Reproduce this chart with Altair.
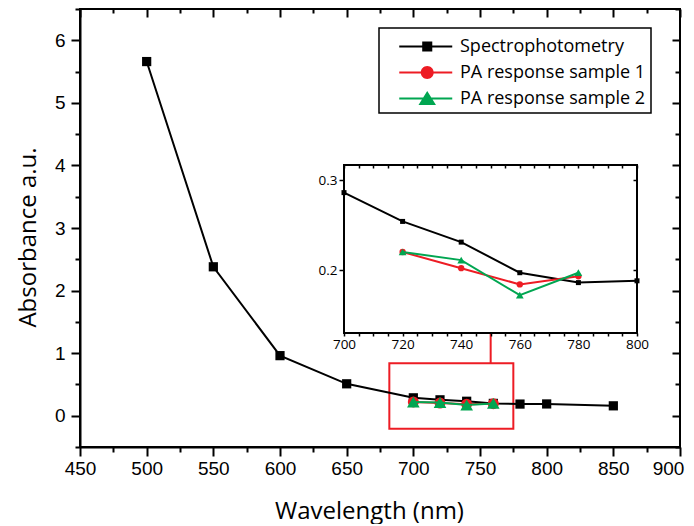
import altair as alt
import pandas as pd

# ---------------- data ----------------
spec_wl = [500, 550, 600, 650, 700, 720, 740, 760, 780, 800, 850]
spec_abs = [5.66, 2.38, 0.96, 0.51, 0.286, 0.254, 0.231, 0.197, 0.186, 0.188, 0.158]
pa_wl_main = [700, 720, 740, 760]
pa_wl_inset = [720, 740, 760, 780]
pa1_abs = [0.220, 0.202, 0.184, 0.193]
pa2_abs = [0.220, 0.211, 0.172, 0.197]
series_names = ["Spectrophotometry", "PA response sample 1", "PA response sample 2"]

x_ticks_main = [450, 475, 500, 525, 550, 575, 600, 625, 650, 675, 700, 725, 750,
                775, 800, 825, 850, 875, 900]
y_ticks_main = [-0.5, 0, 0.5, 1, 1.5, 2, 2.5, 3, 3.5, 4, 4.5, 5, 5.5, 6, 6.5]
x_ticks_inset = [700, 705, 710, 715, 720, 725, 730, 735, 740, 745, 750, 755, 760,
                 765, 770, 775, 780, 785, 790, 795, 800]
y_ticks_inset = [0.2, 0.3]

x_main_domain = [450, 900]
y_main_domain = [-0.5, 6.5]
x_inset_domain = [700, 800]
y_inset_domain = [0.13, 0.3167]

zoom_box_wl = [682, 775]
zoom_box_abs = [-0.21, 0.84]
connector_wl = [758]
connector_abs = [0.84, 1.33]

# ---------------- styles / layout ----------------
RED = "#ed1c24"
GREEN = "#00a651"
BLACK = "#000000"
series_colors = [BLACK, RED, GREEN]

W, H = 600, 438
inset_x_range = [264, 557]
inset_y_range = [324, 156]

TICK_FONT = "Liberation Sans"
TEXT_FONT = "Open Sans"

def cond(major_test, big, small):
    return {"condition": {"test": major_test, "value": big}, "value": small}

spec_df = pd.DataFrame({"wl": spec_wl, "abs": spec_abs})
pa1_main_df = pd.DataFrame({"wl": pa_wl_main, "abs": pa1_abs})
pa2_main_df = pd.DataFrame({"wl": pa_wl_main, "abs": pa2_abs})
spec_inset_df = spec_df[(spec_df.wl >= x_inset_domain[0]) & (spec_df.wl <= x_inset_domain[1])]
pa1_inset_df = pd.DataFrame({"wl": pa_wl_inset, "abs": pa1_abs})
pa2_inset_df = pd.DataFrame({"wl": pa_wl_inset, "abs": pa2_abs})

# ---------------- main plot ----------------
AX_MAIN_X = alt.Axis(
    orient="bottom", values=x_ticks_main, grid=False,
    tickSize=cond("datum.value % 50 == 0", 9, 5), tickWidth=2, tickColor=BLACK,
    domainWidth=2, domainColor=BLACK,
    labelExpr="datum.value % 50 == 0 ? '' + datum.value : ''",
    labelOffset=cond("datum.value == 900", -12, 0),
    labelFont=TICK_FONT, labelFontSize=19, labelColor=BLACK, labelPadding=3,
    labelFlush=False, labelOverlap=False,
    title="Wavelength (nm)", titleFont=TEXT_FONT, titleFontSize=24,
    titleFontWeight="normal", titleColor=BLACK, titleX=289, titleY=71,
    titleBaseline="alphabetic", titleAlign="center",
)
AX_MAIN_Y = alt.Axis(
    orient="left", values=y_ticks_main, grid=False,
    tickSize=cond("datum.value % 1 == 0", 9, 5), tickWidth=2, tickColor=BLACK,
    domainWidth=2, domainColor=BLACK,
    labelExpr="datum.value % 1 == 0 ? '' + datum.value : ''",
    labelFont=TICK_FONT, labelFontSize=19, labelColor=BLACK, labelPadding=6,
    labelOverlap=False,
    title="Absorbance a.u.", titleFont=TEXT_FONT, titleFontSize=24,
    titleFontWeight="normal", titleColor=BLACK, titleAngle=270, titleX=-45,
    titleY=228, titleBaseline="alphabetic", titleAlign="center",
)

def mx(field):
    return alt.X(f"{field}:Q", scale=alt.Scale(domain=x_main_domain, nice=False, zero=False),
                 axis=AX_MAIN_X)

def my(field):
    return alt.Y(f"{field}:Q", scale=alt.Scale(domain=y_main_domain, nice=False, zero=False),
                 axis=AX_MAIN_Y)

box_df = pd.DataFrame({"x0": [zoom_box_wl[0]], "x1": [zoom_box_wl[1]],
                       "y0": [zoom_box_abs[0]], "y1": [zoom_box_abs[1]]})
box = alt.Chart(box_df).mark_rect(fillOpacity=0, stroke=RED, strokeWidth=2).encode(
    x=mx("x0"), x2="x1", y=my("y0"), y2="y1")

conn_df = pd.DataFrame({"x": connector_wl, "y0": [connector_abs[0]], "y1": [connector_abs[1]]})
conn = alt.Chart(conn_df).mark_rule(color=RED, strokeWidth=2).encode(
    x=mx("x"), y=my("y0"), y2="y1")

def series_layers(df, color, shape, size, xf, yf, lw=2):
    line = alt.Chart(df).mark_line(color=color, strokeWidth=lw).encode(x=xf("wl"), y=yf("abs"))
    pts = alt.Chart(df).mark_point(shape=shape, filled=True, size=size, color=color,
                                   opacity=1, strokeWidth=0).encode(x=xf("wl"), y=yf("abs"))
    return [line, pts]

# legend symbols: line + marker drawn as one filled custom path (unit = sqrt(size)/2)
mxc = 2.245
legend_line = "M0.132,-0.0755H4.132V0.0755H0.132Z"
legend_paths = [
    legend_line + f"M{mxc-0.38:.3f},-0.38H{mxc+0.38:.3f}V0.38H{mxc-0.38:.3f}Z",
    legend_line + f"M{mxc+0.49:.3f},0A0.49,0.49 0 1,1 {mxc-0.49:.3f},0A0.49,0.49 0 1,1 {mxc+0.49:.3f},0Z",
    legend_line + f"M{mxc:.3f},-0.56L{mxc+0.66:.3f},0.5L{mxc-0.66:.3f},0.5Z",
]

LEG = alt.Legend(
    title=None, orient="none", legendX=299, legendY=19, symbolSize=702,
    labelOffset=49, padding=5, rowPadding=3, labelFont=TEXT_FONT, labelFontSize=18,
    labelColor=BLACK, strokeColor=BLACK, fillColor="white", symbolStrokeWidth=0,
    labelLimit=400,
    labelExpr="datum.label + '\u00a0\u00a0\u00a0\u00a0\u00a0\u00a0'",
)
legend_df = pd.DataFrame({"series": series_names})
legend_layer = alt.Chart(legend_df).mark_point(filled=True, opacity=1).encode(
    color=alt.Color("series:N", scale=alt.Scale(domain=series_names, range=series_colors), legend=LEG),
    shape=alt.Shape("series:N", scale=alt.Scale(domain=series_names, range=legend_paths), legend=LEG),
).transform_filter("false")

main_group = alt.layer(
    box, conn,
    *series_layers(spec_df, BLACK, "square", 85, mx, my),
    *series_layers(pa1_main_df, RED, "circle", 121, mx, my),
    *series_layers(pa2_main_df, GREEN, "triangle-up", 160, mx, my),
    legend_layer,
)

main_mirror = alt.Chart(spec_df).mark_point(opacity=0).encode(
    x=alt.X("wl:Q", scale=alt.Scale(domain=x_main_domain, nice=False, zero=False),
            axis=alt.Axis(orient="bottom", offset=-H, values=x_ticks_main, labels=False,
                          domain=False, grid=False, title=None, tickColor=BLACK, tickWidth=2,
                          tickSize=cond("datum.value % 50 == 0", 8, 4))),
    y=alt.Y("abs:Q", scale=alt.Scale(domain=y_main_domain, nice=False, zero=False),
            axis=alt.Axis(orient="left", offset=-W, values=y_ticks_main, labels=False,
                          domain=False, grid=False, title=None, tickColor=BLACK, tickWidth=2,
                          tickSize=cond("datum.value % 1 == 0", 8, 5))),
)

# ---------------- inset ----------------
AX_IN_X = alt.Axis(
    orient="bottom", offset=inset_y_range[0] - H, values=x_ticks_inset, grid=False,
    tickSize=3, tickWidth=1.5, tickColor=BLACK, domain=False,
    labelExpr="datum.value % 20 == 0 ? '' + datum.value : ''",
    labelFont=TEXT_FONT, labelFontSize=13.5, labelColor=BLACK, labelPadding=1,
    labelFlush=False, labelOverlap=False, title=None, zindex=1,
)
AX_IN_Y = alt.Axis(
    orient="left", offset=-inset_x_range[0], values=y_ticks_inset, grid=False,
    tickSize=5, tickWidth=1.5, tickColor=BLACK, domain=False,
    labelExpr="format(datum.value, '.1f')",
    labelFont=TEXT_FONT, labelFontSize=13.5, labelColor=BLACK, labelPadding=2,
    labelOverlap=False, title=None, zindex=1,
)

def ix(field, axis=AX_IN_X):
    return alt.X(f"{field}:Q", scale=alt.Scale(domain=x_inset_domain, range=inset_x_range,
                                               nice=False, zero=False), axis=axis)

def iy(field, axis=AX_IN_Y):
    return alt.Y(f"{field}:Q", scale=alt.Scale(domain=y_inset_domain, range=inset_y_range,
                                               nice=False, zero=False), axis=axis)

frame_df = pd.DataFrame({"x0": [x_inset_domain[0]], "x1": [x_inset_domain[1]],
                         "y0": [y_inset_domain[0]], "y1": [y_inset_domain[1]]})
frame = alt.Chart(frame_df).mark_rect(fill="white", stroke=BLACK, strokeWidth=2).encode(
    x=ix("x0"), x2="x1", y=iy("y0"), y2="y1")

inset_group = alt.layer(
    frame,
    *series_layers(spec_inset_df, BLACK, "square", 25, ix, iy),
    *series_layers(pa1_inset_df, RED, "circle", 40, ix, iy),
    *series_layers(pa2_inset_df, GREEN, "triangle-up", 60, ix, iy),
)

inset_mirror = alt.Chart(spec_inset_df).mark_point(opacity=0).encode(
    x=ix("wl", alt.Axis(orient="bottom", offset=inset_y_range[1] - H, values=x_ticks_inset,
                        labels=False, domain=False, grid=False, title=None, tickColor=BLACK,
                        tickWidth=1.5, tickSize=3, zindex=1)),
    y=iy("abs", alt.Axis(orient="left", offset=-inset_x_range[1], values=y_ticks_inset,
                         labels=False, domain=False, grid=False, title=None, tickColor=BLACK,
                         tickWidth=1.5, tickSize=4, zindex=1)),
)

chart = alt.layer(main_group, main_mirror, inset_group, inset_mirror).resolve_scale(
    x="independent", y="independent"
).properties(
    width=W, height=H,
    padding={"left": 72, "top": 1, "right": 6, "bottom": 77},
    autosize=alt.AutoSizeParams(type="none"),
    background="white",
).configure_view(stroke=BLACK, strokeWidth=2).configure_legend(strokeWidth=1.5)

chart.save("out.html", embed_options={"renderer": "svg", "actions": False})
